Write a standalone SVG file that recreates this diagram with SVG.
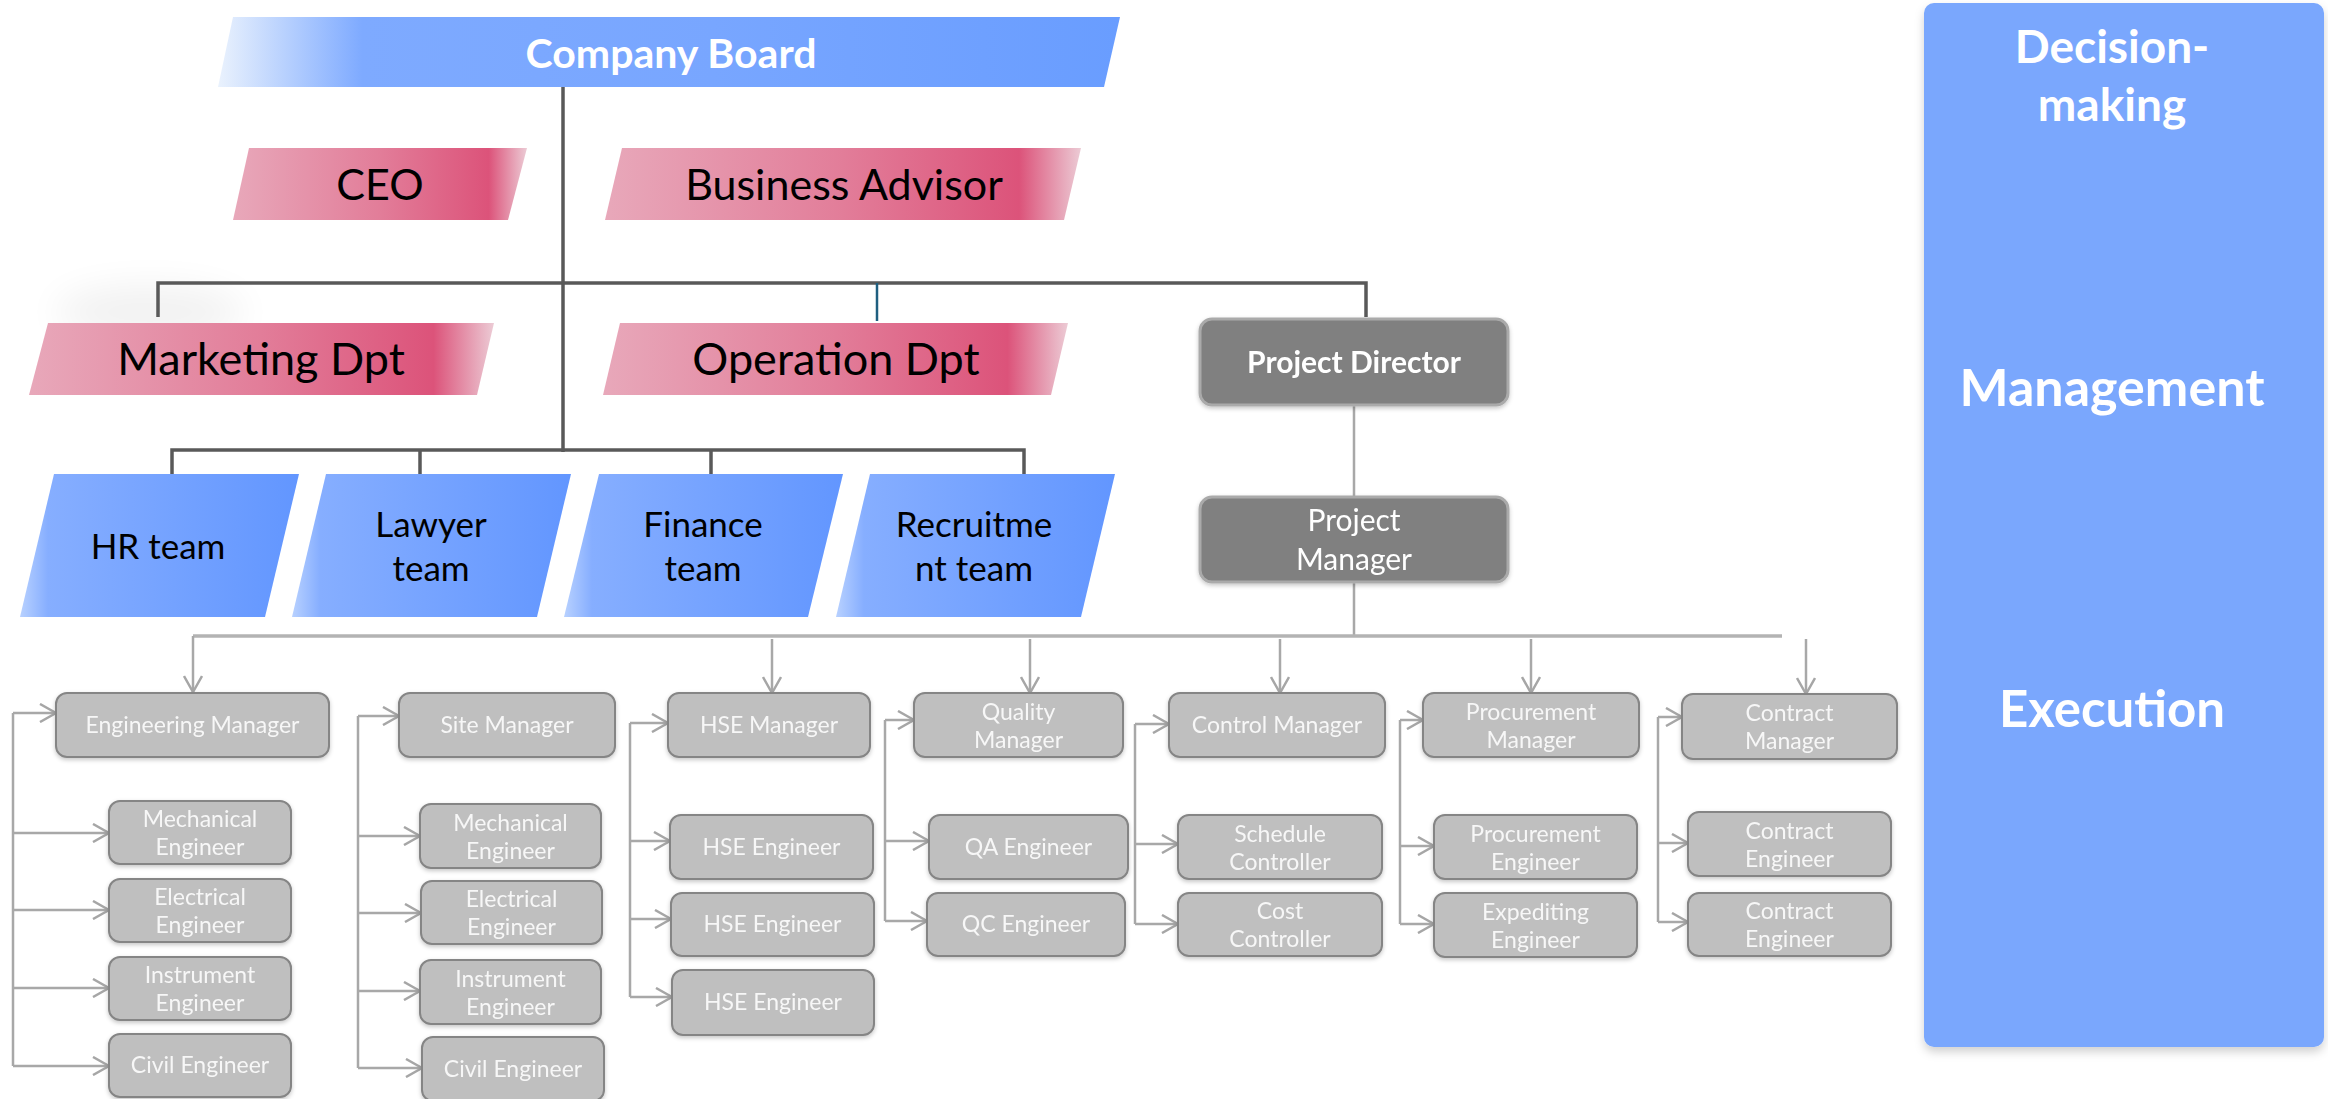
<svg xmlns="http://www.w3.org/2000/svg" width="2328" height="1099" viewBox="0 0 2328 1099">
<defs>
<linearGradient id="gBoard" x1="0" y1="0" x2="1" y2="0">
<stop offset="0" stop-color="#eaf2fd"/><stop offset="0.16" stop-color="#7eaaff"/><stop offset="0.55" stop-color="#78a6ff"/><stop offset="1" stop-color="#699dff"/>
</linearGradient>
<linearGradient id="gPink" x1="0" y1="0" x2="1" y2="0">
<stop offset="0" stop-color="#e8a8ba"/><stop offset="0.5" stop-color="#e27d99"/><stop offset="0.87" stop-color="#dc537a"/><stop offset="1" stop-color="#eccbd5"/>
</linearGradient>
<linearGradient id="gTeam" x1="0" y1="0" x2="1" y2="0">
<stop offset="0" stop-color="#b8d1ff"/><stop offset="0.1" stop-color="#86aeff"/><stop offset="1" stop-color="#6296ff"/>
</linearGradient>
<filter id="shadow" x="-10%" y="-10%" width="120%" height="130%">
<feDropShadow dx="0" dy="2" stdDeviation="2" flood-color="#000" flood-opacity="0.22"/>
</filter>
<filter id="panelShadow" x="-5%" y="-5%" width="110%" height="110%">
<feDropShadow dx="0" dy="5" stdDeviation="5" flood-color="#000" flood-opacity="0.18"/>
</filter>
<filter id="glow" x="-50%" y="-100%" width="200%" height="300%">
<feGaussianBlur stdDeviation="18"/>
</filter>
<marker id="arr" viewBox="0 0 20 20" refX="18" refY="10" markerWidth="20" markerHeight="20" markerUnits="userSpaceOnUse" orient="auto">
<path d="M2,1 L18,10 L2,19" fill="none" stroke="#a6a6a6" stroke-width="2.5"/>
</marker>
<style>
.t{font-family:Lato,"Open Sans","Liberation Sans",sans-serif;text-anchor:middle}
.dark{fill:#000}
.big{font-size:43px}
.team{font-size:35px}
.sub{fill:#bfbfbf;stroke:#858585;stroke-width:2}
.subt{font-size:23px;fill:#f7f7f7}
.pd{fill:#808080;stroke:#aaaaaa;stroke-width:3}
.top{fill:none;stroke:#595959;stroke-width:3.5}
.low{fill:none;stroke:#a8a8a8;stroke-width:2.5}
.panelt{font-weight:bold;fill:#fff}
</style>
</defs>
<rect width="2328" height="1099" fill="#fff"/>
<ellipse cx="150" cy="312" rx="95" ry="26" fill="#000" opacity="0.055" filter="url(#glow)"/>

<g id="panel">
<rect x="1924" y="3" width="400" height="1044" rx="10" fill="#7aa7fd" filter="url(#panelShadow)"/>
<text class="t panelt" x="2112" y="63" font-size="46">Decision-</text>
<text class="t panelt" x="2112" y="121" font-size="46">making</text>
<text class="t panelt" x="2112" y="406" font-size="52">Management</text>
<text class="t panelt" x="2112" y="727" font-size="51">Execution</text>
</g>

<g id="connectors">
<path class="top" d="M563,84 V452"/>
<path class="top" d="M158,317 V283 H1366 V317"/>
<path d="M877,283 V321" fill="none" stroke="#1f5f80" stroke-width="2.5"/>
<path class="top" d="M172,474 V450 H1024 V474 M420,450 V474 M711,450 V474"/>
<path class="low" d="M1354,405 V497 M1354,582 V636"/>
<path d="M193,636 H1782" fill="none" stroke="#b3b3b3" stroke-width="3.5"/>
<path class="low" d="M193,636 V692" marker-end="url(#arr)"/>
<path class="low" d="M772,639 V693" marker-end="url(#arr)"/>
<path class="low" d="M1030,639 V693" marker-end="url(#arr)"/>
<path class="low" d="M1280,639 V693" marker-end="url(#arr)"/>
<path class="low" d="M1531,639 V693" marker-end="url(#arr)"/>
<path class="low" d="M1806,639 V694" marker-end="url(#arr)"/>
<path class="low" d="M13,713 V1066"/>
<path class="low" d="M13,713 H56" marker-end="url(#arr)"/>
<path class="low" d="M13,833 H109" marker-end="url(#arr)"/>
<path class="low" d="M13,910 H109" marker-end="url(#arr)"/>
<path class="low" d="M13,988 H109" marker-end="url(#arr)"/>
<path class="low" d="M13,1066 H109" marker-end="url(#arr)"/>
<path class="low" d="M358,716 V1068"/>
<path class="low" d="M358,716 H399" marker-end="url(#arr)"/>
<path class="low" d="M358,836 H420" marker-end="url(#arr)"/>
<path class="low" d="M358,913 H421" marker-end="url(#arr)"/>
<path class="low" d="M358,991 H420" marker-end="url(#arr)"/>
<path class="low" d="M358,1068 H422" marker-end="url(#arr)"/>
<path class="low" d="M630,723 V997"/>
<path class="low" d="M630,723 H668" marker-end="url(#arr)"/>
<path class="low" d="M630,841 H670" marker-end="url(#arr)"/>
<path class="low" d="M630,919 H671" marker-end="url(#arr)"/>
<path class="low" d="M630,997 H672" marker-end="url(#arr)"/>
<path class="low" d="M885,720 V921"/>
<path class="low" d="M885,720 H914" marker-end="url(#arr)"/>
<path class="low" d="M885,841 H929" marker-end="url(#arr)"/>
<path class="low" d="M885,921 H927" marker-end="url(#arr)"/>
<path class="low" d="M1135,724 V924"/>
<path class="low" d="M1135,724 H1169" marker-end="url(#arr)"/>
<path class="low" d="M1135,844 H1178" marker-end="url(#arr)"/>
<path class="low" d="M1135,924 H1178" marker-end="url(#arr)"/>
<path class="low" d="M1400,720 V924"/>
<path class="low" d="M1400,720 H1423" marker-end="url(#arr)"/>
<path class="low" d="M1400,846 H1434" marker-end="url(#arr)"/>
<path class="low" d="M1400,924 H1434" marker-end="url(#arr)"/>
<path class="low" d="M1658,717 V922"/>
<path class="low" d="M1658,717 H1682" marker-end="url(#arr)"/>
<path class="low" d="M1658,843 H1688" marker-end="url(#arr)"/>
<path class="low" d="M1658,922 H1688" marker-end="url(#arr)"/>
</g>

<g id="company-board">
<polygon points="233,17 1120,17 1104,87 218,87" fill="url(#gBoard)"/>
<text class="t" x="671" y="68" font-size="41" font-weight="bold" fill="#fff">Company Board</text>
</g>
<g id="ceo">
<polygon points="249,148 527,148 508,220 233,220" fill="url(#gPink)"/>
<text class="t dark big" x="380" y="200">CEO</text>
</g>
<g id="business-advisor">
<polygon points="622,148 1081,148 1064,220 605,220" fill="url(#gPink)"/>
<text class="t dark big" x="844" y="200">Business Advisor</text>
</g>
<g id="marketing">
<polygon points="48,323 494,323 477,395 29,395" fill="url(#gPink)"/>
<text class="t dark" x="261" y="375" font-size="45">Marketing Dpt</text>
</g>
<g id="operation">
<polygon points="620,323 1068,323 1051,395 603,395" fill="url(#gPink)"/>
<text class="t dark" x="836" y="375" font-size="45">Operation Dpt</text>
</g>
<g id="hr-team">
<polygon points="54,474 299,474 265,617 20,617" fill="url(#gTeam)"/>
<text class="t dark team" x="158" y="559">HR team</text>
</g>
<g id="lawyer-team">
<polygon points="326,474 571,474 537,617 292,617" fill="url(#gTeam)"/>
<text class="t dark team" x="431" y="537">Lawyer</text>
<text class="t dark team" x="431" y="581">team</text>
</g>
<g id="finance-team">
<polygon points="599,474 843,474 808,617 564,617" fill="url(#gTeam)"/>
<text class="t dark team" x="703" y="537">Finance</text>
<text class="t dark team" x="703" y="581">team</text>
</g>
<g id="recruitment-team">
<polygon points="870,474 1115,474 1081,617 836,617" fill="url(#gTeam)"/>
<text class="t dark team" x="974" y="537">Recruitme</text>
<text class="t dark team" x="974" y="581">nt team</text>
</g>
<g id="project-director" filter="url(#shadow)">
<rect class="pd" x="1200" y="319" width="308" height="86" rx="12"/>
<text class="t" x="1354" y="373" font-size="30" font-weight="bold" fill="#fff">Project Director</text>
</g>
<g id="project-manager" filter="url(#shadow)">
<rect class="pd" x="1200" y="497" width="308" height="85" rx="12"/>
<text class="t" x="1354" y="531" font-size="30" fill="#fff">Project</text>
<text class="t" x="1354" y="570" font-size="30" fill="#fff">Manager</text>
</g>

<g id="engineering-manager" filter="url(#shadow)"><rect class="sub" x="56" y="693" width="273" height="64" rx="11"/><text class="t subt" x="192.5" y="733">Engineering Manager</text></g>
<g id="site-manager" filter="url(#shadow)"><rect class="sub" x="399" y="693" width="216" height="64" rx="11"/><text class="t subt" x="507" y="733">Site Manager</text></g>
<g id="hse-manager" filter="url(#shadow)"><rect class="sub" x="668" y="693" width="202" height="64" rx="11"/><text class="t subt" x="769" y="733">HSE Manager</text></g>
<g id="quality-manager" filter="url(#shadow)"><rect class="sub" x="914" y="693" width="209" height="64" rx="11"/><text class="t subt" x="1018.5" y="720">Quality</text><text class="t subt" x="1018.5" y="748">Manager</text></g>
<g id="control-manager" filter="url(#shadow)"><rect class="sub" x="1169" y="693" width="216" height="64" rx="11"/><text class="t subt" x="1277" y="733">Control Manager</text></g>
<g id="procurement-manager" filter="url(#shadow)"><rect class="sub" x="1423" y="693" width="216" height="64" rx="11"/><text class="t subt" x="1531" y="720">Procurement</text><text class="t subt" x="1531" y="748">Manager</text></g>
<g id="contract-manager" filter="url(#shadow)"><rect class="sub" x="1682" y="694" width="215" height="65" rx="11"/><text class="t subt" x="1789.5" y="721">Contract</text><text class="t subt" x="1789.5" y="749">Manager</text></g>

<g id="eng-mechanical" filter="url(#shadow)"><rect class="sub" x="109" y="801" width="182" height="63" rx="11"/><text class="t subt" x="200" y="827">Mechanical</text><text class="t subt" x="200" y="855">Engineer</text></g>
<g id="eng-electrical" filter="url(#shadow)"><rect class="sub" x="109" y="879" width="182" height="63" rx="11"/><text class="t subt" x="200" y="905">Electrical</text><text class="t subt" x="200" y="933">Engineer</text></g>
<g id="eng-instrument" filter="url(#shadow)"><rect class="sub" x="109" y="957" width="182" height="63" rx="11"/><text class="t subt" x="200" y="983">Instrument</text><text class="t subt" x="200" y="1011">Engineer</text></g>
<g id="eng-civil" filter="url(#shadow)"><rect class="sub" x="109" y="1034" width="182" height="63" rx="11"/><text class="t subt" x="200" y="1073">Civil Engineer</text></g>

<g id="site-mechanical" filter="url(#shadow)"><rect class="sub" x="420" y="804" width="181" height="64" rx="11"/><text class="t subt" x="510.5" y="831">Mechanical</text><text class="t subt" x="510.5" y="859">Engineer</text></g>
<g id="site-electrical" filter="url(#shadow)"><rect class="sub" x="421" y="881" width="181" height="63" rx="11"/><text class="t subt" x="511.5" y="907">Electrical</text><text class="t subt" x="511.5" y="935">Engineer</text></g>
<g id="site-instrument" filter="url(#shadow)"><rect class="sub" x="420" y="960" width="181" height="64" rx="11"/><text class="t subt" x="510.5" y="987">Instrument</text><text class="t subt" x="510.5" y="1015">Engineer</text></g>
<g id="site-civil" filter="url(#shadow)"><rect class="sub" x="422" y="1037" width="182" height="64" rx="11"/><text class="t subt" x="513" y="1077">Civil Engineer</text></g>

<g id="hse-engineer-1" filter="url(#shadow)"><rect class="sub" x="670" y="815" width="203" height="64" rx="11"/><text class="t subt" x="771.5" y="855">HSE Engineer</text></g>
<g id="hse-engineer-2" filter="url(#shadow)"><rect class="sub" x="671" y="893" width="203" height="63" rx="11"/><text class="t subt" x="772.5" y="932">HSE Engineer</text></g>
<g id="hse-engineer-3" filter="url(#shadow)"><rect class="sub" x="672" y="970" width="202" height="65" rx="11"/><text class="t subt" x="773" y="1010">HSE Engineer</text></g>

<g id="qa-engineer" filter="url(#shadow)"><rect class="sub" x="929" y="815" width="199" height="64" rx="11"/><text class="t subt" x="1028.5" y="855">QA Engineer</text></g>
<g id="qc-engineer" filter="url(#shadow)"><rect class="sub" x="927" y="893" width="198" height="63" rx="11"/><text class="t subt" x="1026" y="932">QC Engineer</text></g>

<g id="schedule-controller" filter="url(#shadow)"><rect class="sub" x="1178" y="815" width="204" height="64" rx="11"/><text class="t subt" x="1280" y="842">Schedule</text><text class="t subt" x="1280" y="870">Controller</text></g>
<g id="cost-controller" filter="url(#shadow)"><rect class="sub" x="1178" y="893" width="204" height="63" rx="11"/><text class="t subt" x="1280" y="919">Cost</text><text class="t subt" x="1280" y="947">Controller</text></g>

<g id="procurement-engineer" filter="url(#shadow)"><rect class="sub" x="1434" y="815" width="203" height="64" rx="11"/><text class="t subt" x="1535.5" y="842">Procurement</text><text class="t subt" x="1535.5" y="870">Engineer</text></g>
<g id="expediting-engineer" filter="url(#shadow)"><rect class="sub" x="1434" y="893" width="203" height="64" rx="11"/><text class="t subt" x="1535.5" y="920">Expediting</text><text class="t subt" x="1535.5" y="948">Engineer</text></g>

<g id="contract-engineer-1" filter="url(#shadow)"><rect class="sub" x="1688" y="812" width="203" height="64" rx="11"/><text class="t subt" x="1789.5" y="839">Contract</text><text class="t subt" x="1789.5" y="867">Engineer</text></g>
<g id="contract-engineer-2" filter="url(#shadow)"><rect class="sub" x="1688" y="893" width="203" height="63" rx="11"/><text class="t subt" x="1789.5" y="919">Contract</text><text class="t subt" x="1789.5" y="947">Engineer</text></g>
</svg>
